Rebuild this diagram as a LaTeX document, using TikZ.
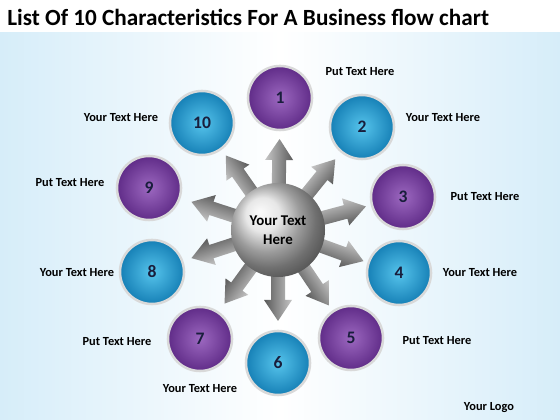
\documentclass[tikz,border=0pt]{standalone}
\usepackage{fontspec}
\setmainfont{Carlito}
\usepackage{tikz}
\definecolor{bgblue}{RGB}{214,237,249}
\definecolor{darkpurple}{RGB}{96,44,136}
\definecolor{lightpurple}{RGB}{156,104,192}
\definecolor{darkblue}{RGB}{22,128,182}
\definecolor{lightblue}{RGB}{86,196,236}
\definecolor{numcolor}{RGB}{25,30,60}
\tikzset{
    every node/.style={font=\bfseries, inner sep=0pt}
}
\tikzset{
    ball/.style={circle, minimum size=1.6cm, draw=gray!30, line width=1.8pt,
    	font=\fontsize{12.5}{14}\selectfont\bfseries, text=numcolor},
    purpleball/.style={ball, inner color=lightpurple, outer color=darkpurple},
    blueball/.style={ball, inner color=lightblue, outer color=darkblue},
    hub/.style={circle, minimum size=2.35cm, ball color=gray!25, align=center,
    	font=\fontsize{10.6}{13.5}\selectfont\bfseries},
    caption/.style={font=\fontsize{8.8}{10}\selectfont\bfseries}
}
% one grey arrow pointing out of the hub
\newcommand{\metalarrow}[1]{
	\begin{scope}[transform canvas={shift={(c)}, rotate=#1}]
		\shade[top color=gray!45, middle color=gray!5, bottom color=gray!70!black]
		(30,-7) -- (70,-7) -- (70,-14) -- (91,0) -- (70,14) -- (70,7)
		-- (30,7) -- cycle;
	\end{scope}
}

\begin{document}
\begin{tikzpicture}[x=0.025cm, y=0.025cm]
	\useasboundingbox (0,0) rectangle (560,420);
	\shade[left color=bgblue, right color=bgblue, middle color=white]
		(0,0) rectangle (560,387);

	\node (title) [anchor=base west, font=\fontsize{16.5}{18}\selectfont\bfseries]
		at (7,394) {List Of 10 Characteristics For A Business flow chart};

	\coordinate (c) at (278,190);
	\metalarrow{89} \metalarrow{51} \metalarrow{15} \metalarrow{-20}
	\metalarrow{-56} \metalarrow{-90} \metalarrow{-126} \metalarrow{-162}
	\metalarrow{162} \metalarrow{125}
	\node (hub) [hub] at (c) {Your Text\\Here};

	\node (1) [purpleball] at (280,322) {1};
	\node (2) [blueball] at (362,293) {2};
	\node (3) [purpleball] at (403,223) {3};
	\node (4) [blueball] at (399,147) {4};
	\node (5) [purpleball] at (351,82) {5};
	\node (6) [blueball] at (278,57) {6};
	\node (7) [purpleball] at (200,81) {7};
	\node (8) [blueball] at (152,148) {8};
	\node (9) [purpleball] at (149,232) {9};
	\node (10) [blueball] at (202,297) {10};

	\node (l1) [caption] at (360,348) {Put Text Here};
	\node (l2) [caption] at (443,302) {Your Text Here};
	\node (l3) [caption] at (485,223) {Put Text Here};
	\node (l4) [caption] at (480,147) {Your Text Here};
	\node (l5) [caption] at (437,79) {Put Text Here};
	\node (l6) [caption] at (200,31) {Your Text Here};
	\node (l7) [caption] at (117,78) {Put Text Here};
	\node (l8) [caption] at (77,147) {Your Text Here};
	\node (l9) [caption] at (70,237) {Put Text Here};
	\node (l10) [caption] at (121,302) {Your Text Here};
	\node (logo) [caption] at (489,12) {Your Logo};
\end{tikzpicture}
\end{document}
